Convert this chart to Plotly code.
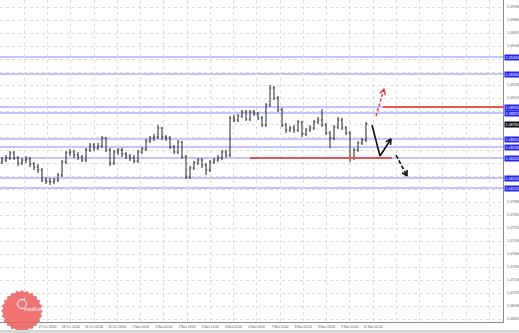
import numpy as np
import plotly.graph_objects as go

# ---------------- data ----------------
first_open = 1.0838
close = [1.0840, 1.0842, 1.0847, 1.0842, 1.0837, 1.0840, 1.0841, 1.0836, 1.0833, 1.0830,
         1.0820, 1.0819, 1.0818, 1.0820, 1.0825, 1.0838, 1.0847, 1.0848, 1.0845, 1.0843,
         1.0840, 1.0850, 1.0855, 1.0852, 1.0854, 1.0862, 1.0850, 1.0837, 1.0848, 1.0850,
         1.0846, 1.0844, 1.0842, 1.0839, 1.0848, 1.0851, 1.0859, 1.0862, 1.0863, 1.0872,
         1.0863, 1.0862, 1.0853, 1.0848, 1.0858, 1.0843, 1.0823, 1.0832, 1.0837, 1.0840,
         1.0835, 1.0830, 1.0838, 1.0840, 1.0842, 1.0848, 1.0845, 1.0882, 1.0880, 1.0884,
         1.0888, 1.0881, 1.0888, 1.0886, 1.0882, 1.0875, 1.0895, 1.0912, 1.0902, 1.0890,
         1.0875, 1.0870, 1.0872, 1.0870, 1.0878, 1.0866, 1.0870, 1.0872, 1.0878, 1.0880,
         1.0875, 1.0867, 1.0862, 1.0873, 1.0880, 1.0872, 1.0867, 1.0842, 1.0850, 1.0857,
         1.0860, 1.0876]
high = [1.0843, 1.0845, 1.0849, 1.0849, 1.0844, 1.0842, 1.0844, 1.0843, 1.0838, 1.0836,
        1.0832, 1.0823, 1.0822, 1.0822, 1.0827, 1.0840, 1.0849, 1.0851, 1.0850, 1.0848,
        1.0845, 1.0852, 1.0857, 1.0857, 1.0857, 1.0864, 1.0863, 1.0852, 1.0850, 1.0852,
        1.0852, 1.0848, 1.0846, 1.0845, 1.0850, 1.0853, 1.0861, 1.0864, 1.0866, 1.0875,
        1.0873, 1.0865, 1.0864, 1.0855, 1.0860, 1.0859, 1.0845, 1.0834, 1.0839, 1.0842,
        1.0842, 1.0837, 1.0840, 1.0842, 1.0845, 1.0850, 1.0850, 1.0884, 1.0885, 1.0886,
        1.0890, 1.0890, 1.0890, 1.0890, 1.0888, 1.0884, 1.0897, 1.0915, 1.0914, 1.0904,
        1.0892, 1.0877, 1.0874, 1.0875, 1.0880, 1.0879, 1.0872, 1.0875, 1.0880, 1.0883,
        1.0891, 1.0877, 1.0869, 1.0875, 1.0883, 1.0882, 1.0874, 1.0869, 1.0852, 1.0859,
        1.0862, 1.0878]
low = [1.0836, 1.0838, 1.0840, 1.0840, 1.0834, 1.0835, 1.0837, 1.0833, 1.0830, 1.0827,
       1.0818, 1.0816, 1.0815, 1.0816, 1.0818, 1.0823, 1.0836, 1.0844, 1.0842, 1.0840,
       1.0838, 1.0838, 1.0848, 1.0849, 1.0850, 1.0852, 1.0848, 1.0834, 1.0835, 1.0845,
       1.0843, 1.0841, 1.0839, 1.0837, 1.0837, 1.0846, 1.0849, 1.0857, 1.0859, 1.0861,
       1.0860, 1.0859, 1.0851, 1.0846, 1.0846, 1.0841, 1.0821, 1.0821, 1.0830, 1.0835,
       1.0832, 1.0825, 1.0828, 1.0836, 1.0838, 1.0840, 1.0842, 1.0843, 1.0878, 1.0878,
       1.0882, 1.0879, 1.0879, 1.0884, 1.0880, 1.0873, 1.0873, 1.0893, 1.0900, 1.0888,
       1.0873, 1.0867, 1.0868, 1.0867, 1.0868, 1.0863, 1.0864, 1.0868, 1.0870, 1.0876,
       1.0873, 1.0865, 1.0852, 1.0860, 1.0871, 1.0870, 1.0865, 1.0838, 1.0840, 1.0848,
       1.0855, 1.0858]

levels = [1.0943, 1.0926, 1.0893, 1.0887, 1.0861, 1.0853, 1.0842, 1.0822, 1.0812]
red_upper = {"price": 1.0893, "x0": 95.25}
red_lower = {"price": 1.0842, "x0": 62, "x1": 97.5}

arrow_red_x = [93.5, 95.5]
arrow_red_y = [1.0884, 1.0911]
arrow_black_x = [92.5, 94.5, 97.25]
arrow_black_y = [1.0875, 1.0844, 1.0861]
arrow_dash_x = [98.5, 101.25]
arrow_dash_y = [1.0845, 1.0824]

x_labels = ["26 Oct 2016", "27 Oct 02:00", "27 Oct 18:00", "28 Oct 10:00", "31 Oct 02:00",
            "31 Oct 18:00", "1 Nov 10:00", "2 Nov 02:00", "2 Nov 18:00", "3 Nov 10:00",
            "4 Nov 02:00", "4 Nov 18:00", "7 Nov 10:00", "8 Nov 02:00", "8 Nov 18:00",
            "9 Nov 10:00", "10 Nov 02:00"]

# ---------------- geometry / styling ----------------
W, H = 519, 333
PW, PH = 503, 322
XR = [-0.5, 125.25]
YR = [1.0678, 1.1000]
PX_PER_X = PW / (XR[1] - XR[0])
PX_PER_Y = PH / (YR[1] - YR[0])
FONT = "Liberation Sans"

n = len(close)
xs = list(range(n))
opens = [first_open] + close[:-1]

fig = go.Figure()

fig.add_trace(go.Ohlc(
    x=xs, open=opens, high=high, low=low, close=close,
    increasing=dict(line=dict(color="#222", width=1)),
    decreasing=dict(line=dict(color="#222", width=1)),
    tickwidth=0.3, showlegend=False, hoverinfo="skip"))

shapes = []
for lv in levels:
    shapes.append(dict(type="line", xref="paper", yref="y", x0=0, x1=1, y0=lv, y1=lv,
                       line=dict(color="#8a8aff", width=1.2), layer="below"))
shapes.append(dict(type="line", xref="x", yref="y", x0=red_upper["x0"], x1=XR[1],
                   y0=red_upper["price"], y1=red_upper["price"],
                   line=dict(color="#e45555", width=2)))
shapes.append(dict(type="line", xref="x", yref="y", x0=red_lower["x0"], x1=red_lower["x1"],
                   y0=red_lower["price"], y1=red_lower["price"],
                   line=dict(color="#e45555", width=2)))


def chevron(xp, yp, color, width):
    # open V arrowhead at the end of the polyline, computed in pixel space
    tx, ty = xp[-1] * PX_PER_X, yp[-1] * PX_PER_Y
    sx, sy = xp[-2] * PX_PER_X, yp[-2] * PX_PER_Y
    d = np.array([tx - sx, ty - sy])
    d = d / np.linalg.norm(d)
    L = 6.0
    pts_x, pts_y = [], []
    for ang in (np.radians(28), 0, np.radians(-28)):
        if ang == 0:
            px, py = tx, ty
        else:
            c, s = np.cos(ang), np.sin(ang)
            r = np.array([c * d[0] - s * d[1], s * d[0] + c * d[1]])
            px, py = tx - L * r[0], ty - L * r[1]
        pts_x.append(px / PX_PER_X)
        pts_y.append(py / PX_PER_Y)
    fig.add_trace(go.Scatter(x=pts_x, y=pts_y, mode="lines",
                             line=dict(color=color, width=width),
                             showlegend=False, hoverinfo="skip"))


fig.add_trace(go.Scatter(x=arrow_red_x, y=arrow_red_y, mode="lines",
                         line=dict(color="#e83a3a", width=1.5, dash="3px,2px"),
                         showlegend=False, hoverinfo="skip"))
chevron(arrow_red_x, arrow_red_y, "#e83a3a", 1.5)
fig.add_trace(go.Scatter(x=arrow_black_x, y=arrow_black_y, mode="lines",
                         line=dict(color="#111", width=1.6),
                         showlegend=False, hoverinfo="skip"))
chevron(arrow_black_x, arrow_black_y, "#111", 1.6)
fig.add_trace(go.Scatter(x=arrow_dash_x, y=arrow_dash_y, mode="lines",
                         line=dict(color="#111", width=1.6, dash="4px,2px"),
                         showlegend=False, hoverinfo="skip"))
chevron(arrow_dash_x, arrow_dash_y, "#111", 1.6)

# axes ticks
grid_px = [1 + 23.25 * g for g in range(22)]
x_tickvals = [p / PX_PER_X + XR[0] for p in grid_px]
x_ticktext = [x_labels[g] if g < len(x_labels) else "" for g in range(22)]
y_tickvals = [round(1.0993 - 0.0013 * k, 4) for k in range(25)]
boxed = levels + [close[-1]]
y_ticktext = []
for v in y_tickvals:
    near = any(abs(v - b) * PX_PER_Y < 6 for b in boxed)
    y_ticktext.append("" if near else f"{v:.5f}")

annotations = []
for lv in levels:
    annotations.append(dict(xref="paper", yref="y", x=1, y=lv, xanchor="left", yanchor="middle",
                            xshift=1, text=f"{lv:.5f}", showarrow=False,
                            font=dict(size=3.8, color="white", family=FONT),
                            bgcolor="#2424ee", borderpad=0.6))
annotations.append(dict(xref="paper", yref="y", x=1, y=close[-1], xanchor="left", yanchor="middle",
                        xshift=1, text=f"{close[-1]:.5f}", showarrow=False,
                        font=dict(size=3.8, color="white", family=FONT),
                        bgcolor="#111", borderpad=0.6))

# logo (decoration)
cxp, cyp, R = 22, 311, 21
angs = np.linspace(0, 2 * np.pi, 49)[:-1]
pts = []
for k, a in enumerate(angs):
    r = R if k % 2 == 0 else R - 2.2
    px = cxp + r * np.cos(a)
    py = cyp + r * np.sin(a)
    pts.append((px / PW, (PH - py) / PH))
path = "M " + " L ".join(f"{x:.5f},{y:.5f}" for x, y in pts) + " Z"
shapes.append(dict(type="path", xref="paper", yref="paper", path=path,
                   fillcolor="rgba(238,92,92,0.85)", line=dict(width=0), layer="above"))
shapes.append(dict(type="circle", xref="paper", yref="paper",
                   x0=(cxp - 4.5) / PW, x1=(cxp + 4.5) / PW,
                   y0=(PH - 299.5) / PH, y1=(PH - 308.5) / PH,
                   line=dict(color="white", width=1), layer="above"))
annotations.append(dict(xref="paper", yref="paper", x=cxp / PW, y=(PH - 304) / PH,
                        text="i", showarrow=False,
                        font=dict(size=6, color="white", family=FONT)))
annotations.append(dict(xref="paper", yref="paper", x=cxp / PW, y=(PH - 314) / PH,
                        text="InstaForex", showarrow=False,
                        font=dict(size=4.5, color="white", family=FONT)))
# bottom window strip (page pixels 330..333)
shapes.append(dict(type="rect", xref="paper", yref="paper", x0=0, x1=W / PW,
                   y0=-(333 - PH) / PH, y1=-(330 - PH) / PH,
                   fillcolor="#d6d6d6", line=dict(width=0)))

fig.update_layout(
    width=W, height=H, margin=dict(l=0, r=W - PW, t=0, b=H - PH),
    paper_bgcolor="white", plot_bgcolor="white",
    shapes=shapes, annotations=annotations, showlegend=False,
    xaxis=dict(range=XR, rangeslider=dict(visible=False), tickvals=x_tickvals,
               ticktext=x_ticktext, tickangle=0, showgrid=True, gridcolor="#dcdcdc",
               griddash="dot", gridwidth=1, zeroline=False, showline=True,
               linecolor="#8a8a8a", linewidth=1, ticks="", ticklabelstandoff=1,
               tickfont=dict(size=3.2, color="#555", family=FONT)),
    yaxis=dict(range=YR, side="right", tickvals=y_tickvals, ticktext=y_ticktext,
               showgrid=True, gridcolor="#dcdcdc", griddash="dot", gridwidth=1,
               zeroline=False, showline=True, linecolor="#8a8a8a", linewidth=1,
               ticks="", ticklabelstandoff=2,
               tickfont=dict(size=3.8, color="#666", family=FONT)),
)

fig.write_html("out.html")
